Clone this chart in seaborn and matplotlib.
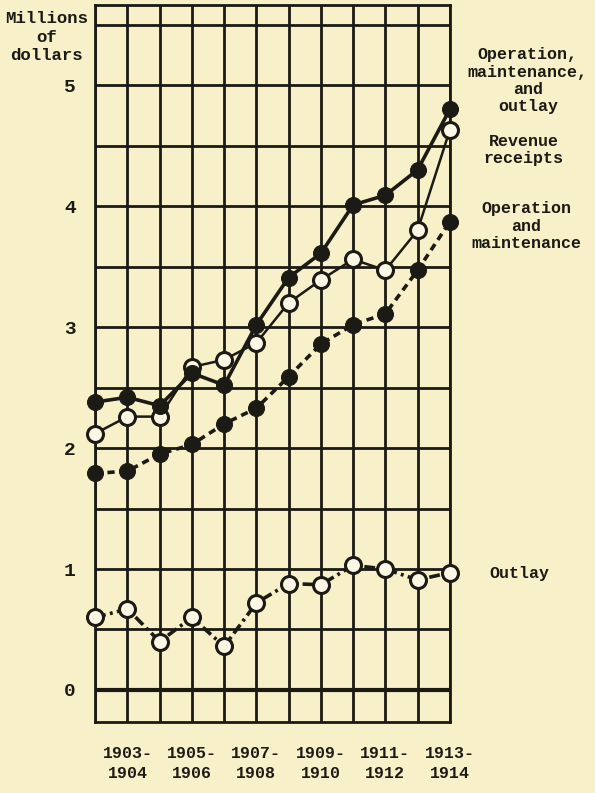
import matplotlib
matplotlib.use("Agg")
import matplotlib.pyplot as plt
import seaborn as sns
import pandas as pd
import numpy as np

# Fiscal years (July–June); every other one is labelled on the axis
years = ["1902-1903", "1903-1904", "1904-1905", "1905-1906", "1906-1907", "1907-1908",
         "1908-1909", "1909-1910", "1910-1911", "1911-1912", "1912-1913", "1913-1914"]
labelled_years = ["1903-\n1904", "1905-\n1906", "1907-\n1908",
                  "1909-\n1910", "1911-\n1912", "1913-\n1914"]

# Millions of dollars
op_maint_outlay = [2.38, 2.42, 2.35, 2.62, 2.52, 3.02, 3.41, 3.61, 4.01, 4.09, 4.30, 4.80]
revenue_receipts = [2.12, 2.26, 2.26, 2.67, 2.73, 2.87, 3.20, 3.39, 3.56, 3.47, 3.80, 4.63]
op_maint = [1.79, 1.81, 1.95, 2.03, 2.20, 2.33, 2.59, 2.86, 3.02, 3.11, 3.47, 3.87]
outlay = [0.60, 0.67, 0.40, 0.60, 0.36, 0.72, 0.88, 0.87, 1.03, 1.00, 0.91, 0.97]

y_ticks = [0, 1, 2, 3, 4, 5]

sns.set_theme(style="white")
plt.rcParams["font.family"] = ["Liberation Mono", "DejaVu Sans Mono"]
plt.rcParams["font.weight"] = "bold"

paper = "#f7f0c9"
ink = "#1c1a14"

fig = plt.figure(figsize=(5.95, 7.93), dpi=100, facecolor=paper)
ax = fig.add_axes([0.160, 0.0895, 0.596, 0.9045])
ax.set_facecolor(paper)

df = pd.DataFrame({
    "idx": np.arange(len(years)),
    "year": years,
    "op_maint_outlay": op_maint_outlay,
    "revenue_receipts": revenue_receipts,
    "op_maint": op_maint,
    "outlay": outlay,
})

ms = 11.5
lw = 2.6

sns.lineplot(data=df, x="idx", y="op_maint", ax=ax, color=ink, lw=lw,
             linestyle=(0, (2.0, 1.4)), marker="o", markersize=ms,
             markerfacecolor=ink, markeredgecolor=ink, zorder=4, clip_on=False)
sns.lineplot(data=df, x="idx", y="revenue_receipts", ax=ax, color=ink, lw=1.8,
             linestyle="-", marker="o", markersize=ms, markeredgewidth=2.2,
             markerfacecolor="#fbf7e4", markeredgecolor=ink, zorder=5, clip_on=False)
sns.lineplot(data=df, x="idx", y="op_maint_outlay", ax=ax, color=ink, lw=lw,
             linestyle="-", marker="o", markersize=ms,
             markerfacecolor=ink, markeredgecolor=ink, zorder=6, clip_on=False)
sns.lineplot(data=df, x="idx", y="outlay", ax=ax, color=ink, lw=lw,
             linestyle=(0, (3.0, 1.2, 0.8, 1.2)), marker="o", markersize=ms,
             markeredgewidth=2.2, markerfacecolor="#fbf7e4", markeredgecolor=ink,
             zorder=5, clip_on=False)

ax.set_xlim(0, len(years) - 1)
ax.set_ylim(-0.265, 5.665)

# Grid: a line at every year and every half million
for i in range(len(years)):
    ax.axvline(i, color=ink, lw=2.0, zorder=1)
for v in np.arange(0, 5.51, 0.5):
    ax.axhline(v, color=ink, lw=3.0 if v == 0 else 2.0, zorder=1)

for s in ax.spines.values():
    s.set_color(ink)
    s.set_linewidth(2.0)

ax.set_xticks(range(1, len(years), 2))
ax.set_xticklabels(labelled_years, fontsize=12, fontweight="bold", color=ink,
                   linespacing=1.45)
ax.set_yticks(y_ticks)
ax.set_yticklabels([str(v) for v in y_ticks], fontsize=14, fontweight="bold", color=ink)
ax.tick_params(axis="x", length=5, width=2, color=ink, pad=12, direction="out")
ax.tick_params(axis="y", length=0, pad=14)
ax.set_xlabel("")
ax.set_ylabel("")

fig.text(0.078, 0.986, "Millions\nof\ndollars", ha="center", va="top",
         fontsize=12.5, fontweight="bold", color=ink, linespacing=1.3)

tkw = dict(ha="center", va="center", fontsize=12, fontweight="bold", color=ink,
           linespacing=1.2)
fig.text(0.887, 0.898, "Operation,\nmaintenance,\nand\noutlay", **tkw)
fig.text(0.880, 0.811, "Revenue\nreceipts", **tkw)
fig.text(0.885, 0.715, "Operation\nand\nmaintenance", **tkw)
fig.text(0.873, 0.277, "Outlay", **tkw)

fig.savefig("out.png", dpi=100, facecolor=paper)
